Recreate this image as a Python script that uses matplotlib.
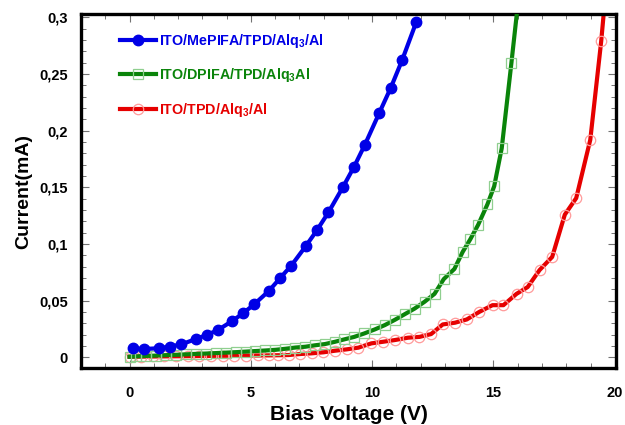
import matplotlib
matplotlib.use('Agg')
import matplotlib.pyplot as plt
from matplotlib.ticker import MultipleLocator, FuncFormatter

plt.rcParams['font.family'] = ['Liberation Sans', 'DejaVu Sans']
plt.rcParams['font.weight'] = 'bold'
plt.rcParams['mathtext.default'] = 'bf'
plt.rcParams['mathtext.fontset'] = 'custom'
plt.rcParams['mathtext.bf'] = 'Liberation Sans:bold'

# data
blue_x = [0.16, 0.6, 1.2, 1.65, 2.13, 2.72, 3.18, 3.64, 4.23, 4.69, 5.15, 5.75,
          6.21, 6.67, 7.26, 7.72, 8.2, 8.79, 9.25, 9.7, 10.3, 10.77, 11.23, 11.82]
blue_y = [0.0079, 0.0073, 0.008, 0.0094, 0.0114, 0.016, 0.0197, 0.024, 0.032,
          0.039, 0.047, 0.0587, 0.070, 0.081, 0.098, 0.112, 0.128, 0.150, 0.168,
          0.1876, 0.216, 0.238, 0.262, 0.296]

green_x = [0.0, 0.27, 0.68, 1.09, 1.5, 1.91, 2.32, 2.73, 3.14, 3.55, 3.96, 4.37,
           4.78, 5.19, 5.6, 6.01, 6.42, 6.83, 7.24, 7.65, 8.06, 8.47, 8.85, 9.26,
           9.67, 10.11, 10.52, 10.93, 11.34, 11.75, 12.16, 12.57, 12.95, 13.39,
           13.73, 14.04, 14.37, 14.75, 15.03, 15.34, 15.74, 16.1]
green_y = [0.0005, 0.0008, 0.0012, 0.0015, 0.0019, 0.0022, 0.0026, 0.003, 0.0033,
           0.0037, 0.0041, 0.0045, 0.005, 0.0055, 0.006, 0.0066, 0.0075, 0.0086,
           0.0093, 0.0106, 0.0117, 0.0137, 0.0158, 0.018, 0.021, 0.0246, 0.0284,
           0.033, 0.038, 0.043, 0.049, 0.056, 0.069, 0.078, 0.093, 0.104, 0.117,
           0.135, 0.151, 0.1845, 0.26, 0.33]

red_x = [0.0, 0.48, 0.96, 1.44, 1.92, 2.4, 2.88, 3.36, 3.84, 4.32, 4.8, 5.28,
         5.76, 6.1, 6.56, 7.04, 7.51, 7.99, 8.47, 8.95, 9.43, 9.97, 10.45, 10.93,
         11.48, 11.95, 12.43, 12.91, 13.41, 13.9, 14.41, 14.96, 15.41, 15.95,
         16.41, 16.9, 17.42, 17.94, 18.41, 18.99, 19.44, 19.7]
red_y = [0.0005, 0.0006, 0.0007, 0.0008, 0.0009, 0.001, 0.0011, 0.0012, 0.0013,
         0.0014, 0.0015, 0.0016, 0.0017, 0.0018, 0.002, 0.0029, 0.0035, 0.0044,
         0.0058, 0.007, 0.0085, 0.0123, 0.0137, 0.0152, 0.0173, 0.018, 0.0205,
         0.029, 0.0305, 0.0334, 0.040, 0.046, 0.046, 0.056, 0.062, 0.077, 0.0886,
         0.1259, 0.1405, 0.192, 0.279, 0.34]

labels = [r'ITO/MePIFA/TPD/Alq$_3$/Al',
          r'ITO/DPIFA/TPD/Alq$_3$Al',
          r'ITO/TPD/Alq$_3$/Al']
colors = ['#0000e6', '#0a840a', '#e60000']

fig = plt.figure(figsize=(6.25, 4.25), dpi=100)
ax = fig.add_axes([0.1296, 0.134, 0.856, 0.833])

ax.plot(blue_x, blue_y, '-o', color=colors[0], lw=3, ms=7.5,
        label=labels[0], zorder=4)
ax.plot(green_x, green_y, '-s', color=colors[1], lw=3, ms=7,
        mfc='none', mec='#8fcf8f', mew=0.9, label=labels[1], zorder=3)
ax.plot(red_x, red_y, '-o', color=colors[2], lw=3, ms=7.5,
        mfc='none', mec='#ff9a9a', mew=0.9, label=labels[2], zorder=2)

ax.set_xlim(-2, 20.05)
ax.set_ylim(-0.0095, 0.303)
ax.xaxis.set_major_locator(MultipleLocator(5))
ax.xaxis.set_minor_locator(MultipleLocator(1))
ax.yaxis.set_major_locator(MultipleLocator(0.05))
ax.yaxis.set_minor_locator(MultipleLocator(0.01))
ax.yaxis.set_major_formatter(FuncFormatter(lambda v, p: ('%g' % round(v, 3)).replace('.', ',')))

ax.tick_params(which='both', direction='in', top=True, right=True, color='0.45')
ax.tick_params(which='major', length=6, width=0.8)
ax.tick_params(which='minor', length=3.5, width=0.7)
ax.tick_params(axis='x', which='major', pad=13, labelsize=10.5)
ax.tick_params(axis='y', which='major', pad=9.4, labelsize=10.5)
for lab in ax.get_xticklabels() + ax.get_yticklabels():
    lab.set_fontweight('bold')
for s in ax.spines.values():
    s.set_linewidth(2.4)

ax.set_xlabel('Bias Voltage (V)', fontsize=15, fontweight='bold', labelpad=3.5)
ax.set_ylabel('Current(mA)', fontsize=14, fontweight='bold', labelpad=5)

leg = ax.legend(loc='upper left', bbox_to_anchor=(0.062, 0.965), frameon=False,
                fontsize=10.3, handlelength=2.5, handletextpad=0.2,
                labelspacing=1.14, borderaxespad=0)
for t, c in zip(leg.get_texts(), colors):
    t.set_color(c)
    t.set_fontweight('bold')

fig.savefig('out.png', dpi=100)
